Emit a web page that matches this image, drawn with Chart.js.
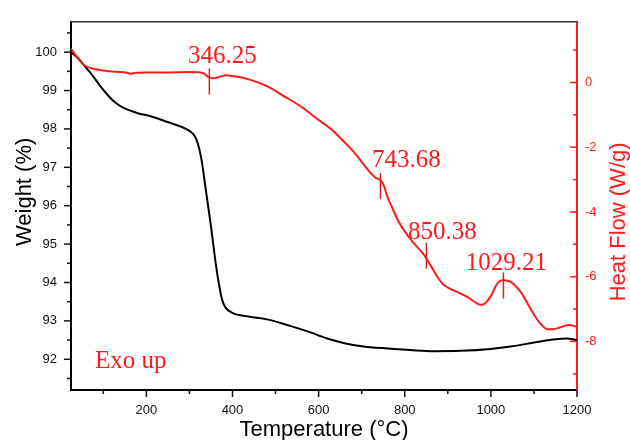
<!DOCTYPE html>
<html>
<head>
<meta charset="utf-8">
<script src="https://cdn.jsdelivr.net/npm/chart.js@4/dist/chart.umd.min.js"></script>
<style>
  html, body { margin: 0; padding: 0; background: #fff; }
  #wrap { width: 630px; height: 440px; }
</style>
</head>
<body>
<div id="wrap"><canvas id="c" width="630" height="440"></canvas></div>
<script>
// ---- data ----
const tempW = [25, 40, 55, 71, 94, 117, 130, 145, 160, 180, 210, 249, 280, 300, 312, 320, 328, 337, 349, 364, 376, 383, 392, 403, 440, 480, 534, 581, 620, 660, 700, 760, 813, 868, 930, 999, 1050, 1108, 1150, 1177, 1200];
const weight = [100.0, 99.86, 99.66, 99.45, 99.1, 98.8, 98.67, 98.56, 98.49, 98.41, 98.33, 98.18, 98.06, 97.95, 97.82, 97.6, 97.2, 96.5, 95.55, 94.27, 93.55, 93.36, 93.26, 93.19, 93.11, 93.04, 92.87, 92.7, 92.54, 92.42, 92.34, 92.28, 92.24, 92.21, 92.22, 92.27, 92.34, 92.45, 92.52, 92.54, 92.5];

const tempH = [25, 35, 45, 56, 75, 94, 130, 155, 164, 175, 200, 250, 300, 326, 334, 345, 357, 372, 385, 395, 419, 442, 481, 519, 560, 597, 630, 659, 685, 705, 721, 733, 744, 752, 759, 772, 786, 800, 820, 844, 860, 876, 891, 915, 945, 965, 976, 987, 1000, 1015, 1026, 1036, 1046, 1069, 1085, 1100, 1115, 1131, 1145, 1160, 1181, 1192, 1200];
const heatFlow = [1.05, 0.85, 0.68, 0.53, 0.43, 0.38, 0.33, 0.3, 0.27, 0.3, 0.31, 0.31, 0.32, 0.31, 0.27, 0.16, 0.13, 0.18, 0.22, 0.21, 0.16, 0.08, -0.12, -0.42, -0.75, -1.13, -1.45, -1.83, -2.2, -2.54, -2.8, -2.95, -3.02, -3.2, -3.5, -3.9, -4.3, -4.6, -4.95, -5.31, -5.65, -6.01, -6.26, -6.43, -6.62, -6.8, -6.87, -6.82, -6.6, -6.21, -6.11, -6.12, -6.16, -6.47, -6.82, -7.17, -7.45, -7.62, -7.62, -7.57, -7.49, -7.52, -7.55];

const xTicks = [200, 400, 600, 800, 1000, 1200];
const xMinorTicks = [100, 300, 500, 700, 900, 1100];
const weightTicks = [92, 93, 94, 95, 96, 97, 98, 99, 100];
const weightMinorTicks = [91.5, 92.5, 93.5, 94.5, 95.5, 96.5, 97.5, 98.5, 99.5, 100.5];
const heatTicks = [-8, -6, -4, -2, 0];
const heatMinorTicks = [-9, -7, -5, -3, -1, 1];

const peakLabels = ['346.25', '743.68', '850.38', '1029.21'];
const peakTemps = [346.25, 743.68, 850.38, 1029.21];
const peakFlows = [0.03, -3.2, -5.35, -6.27];

const xTitle = 'Temperature (°C)';
const weightTitle = 'Weight (%)';
const heatTitle = 'Heat Flow (W/g)';
const noteText = 'Exo up';

// ---- styling / layout ----
const RED = '#ff1a1a';
const SANS = '"Liberation Sans", Arial, sans-serif';
const SERIF = '"Liberation Serif", "Times New Roman", serif';
const labelOffsets = [[13, -18], [26, -19], [16, -17], [3, -15]];

const extras = {
  id: 'extras',
  afterDraw(chart) {
    const ctx = chart.ctx;
    const a = chart.chartArea;
    const xs = chart.scales.x, yl = chart.scales.y, yr = chart.scales.y2;
    ctx.save();
    // top frame
    ctx.strokeStyle = '#333';
    ctx.lineWidth = 1.5;
    ctx.beginPath(); ctx.moveTo(a.left, a.top); ctx.lineTo(a.right, a.top); ctx.stroke();

    function tick(x1, y1, x2, y2, color) {
      ctx.strokeStyle = color; ctx.lineWidth = 1.5;
      ctx.beginPath(); ctx.moveTo(x1, y1); ctx.lineTo(x2, y2); ctx.stroke();
    }
    // bottom ticks (outward)
    xTicks.forEach(v => { const p = xs.getPixelForValue(v); tick(p, a.bottom, p, a.bottom + 7, '#111'); });
    xMinorTicks.forEach(v => { const p = xs.getPixelForValue(v); tick(p, a.bottom, p, a.bottom + 4, '#111'); });
    // left ticks (outward)
    weightTicks.forEach(v => { const p = yl.getPixelForValue(v); tick(a.left, p, a.left - 7, p, '#111'); });
    weightMinorTicks.forEach(v => { const p = yl.getPixelForValue(v); tick(a.left, p, a.left - 4, p, '#111'); });
    // right ticks (inward)
    heatTicks.forEach(v => { const p = yr.getPixelForValue(v); tick(a.right, p, a.right - 7, p, RED); });
    heatMinorTicks.forEach(v => { const p = yr.getPixelForValue(v); tick(a.right, p, a.right - 4, p, RED); });

    // axis titles
    ctx.font = '22px ' + SANS;
    ctx.textBaseline = 'alphabetic';
    ctx.textAlign = 'center';
    ctx.fillStyle = '#000';
    ctx.fillText(xTitle, (a.left + a.right) / 2, 436);
    ctx.save();
    ctx.translate(31, (a.top + a.bottom) / 2 - 14);
    ctx.rotate(-Math.PI / 2);
    ctx.fillText(weightTitle, 0, 0);
    ctx.restore();
    ctx.save();
    ctx.fillStyle = RED;
    ctx.translate(625, (a.top + a.bottom) / 2 + 16);
    ctx.rotate(-Math.PI / 2);
    ctx.fillText(heatTitle, 0, 0);
    ctx.restore();

    // peak markers and labels
    ctx.font = '25px ' + SERIF;
    peakTemps.forEach((t, i) => {
      const px = xs.getPixelForValue(t);
      const py = yr.getPixelForValue(peakFlows[i]);
      tick(px, py - 13, px, py + 13, '#c62828');
      ctx.fillStyle = RED;
      ctx.textAlign = 'center';
      ctx.fillText(peakLabels[i], px + labelOffsets[i][0], py + labelOffsets[i][1]);
    });
    // note
    ctx.textAlign = 'left';
    ctx.fillStyle = RED;
    ctx.fillText(noteText, a.left + 24, a.bottom - 22);
    ctx.restore();
  }
};

const plainLabel = v => String(v);

new Chart(document.getElementById('c'), {
  type: 'line',
  data: {
    datasets: [
      {
        label: 'Weight',
        data: tempW.map((t, i) => ({ x: t, y: weight[i] })),
        yAxisID: 'y',
        borderColor: '#000',
        borderWidth: 2,
        pointRadius: 0,
        cubicInterpolationMode: 'monotone',
        order: 2
      },
      {
        label: 'Heat Flow',
        data: tempH.map((t, i) => ({ x: t, y: heatFlow[i] })),
        yAxisID: 'y2',
        borderColor: RED,
        borderWidth: 2,
        pointRadius: 0,
        cubicInterpolationMode: 'monotone',
        order: 1
      }
    ]
  },
  options: {
    responsive: false,
    animation: false,
    devicePixelRatio: 1,
    layout: { padding: { top: 14, left: 0, right: 0, bottom: 0 } },
    plugins: { legend: { display: false }, tooltip: { enabled: false } },
    scales: {
      x: {
        type: 'linear',
        position: 'bottom',
        min: 25,
        max: 1200,
        afterBuildTicks: s => { s.ticks = xTicks.map(v => ({ value: v })); },
        afterFit: s => { s.height = 50; },
        grid: { display: false, drawTicks: false, tickLength: 0 },
        border: { display: true, color: '#000', width: 2 },
        ticks: { color: '#111', font: { family: SANS, size: 13 }, padding: 13, maxRotation: 0, callback: plainLabel }
      },
      y: {
        type: 'linear',
        position: 'left',
        min: 91.2,
        max: 100.79,
        afterBuildTicks: s => { s.ticks = weightTicks.map(v => ({ value: v })); },
        afterFit: s => { s.width = 71; },
        grid: { display: false, drawTicks: false, tickLength: 0 },
        border: { display: true, color: '#000', width: 2 },
        ticks: { color: '#111', font: { family: SANS, size: 13 }, padding: 14, callback: plainLabel }
      },
      y2: {
        type: 'linear',
        position: 'right',
        min: -9.5,
        max: 1.874,
        afterBuildTicks: s => { s.ticks = heatTicks.map(v => ({ value: v })); },
        afterFit: s => { s.width = 53; },
        grid: { display: false, drawTicks: false, tickLength: 0 },
        border: { display: true, color: RED, width: 2 },
        ticks: { color: RED, font: { family: SANS, size: 13 }, padding: 8, callback: plainLabel }
      }
    }
  },
  plugins: [extras]
});
</script>
</body>
</html>
